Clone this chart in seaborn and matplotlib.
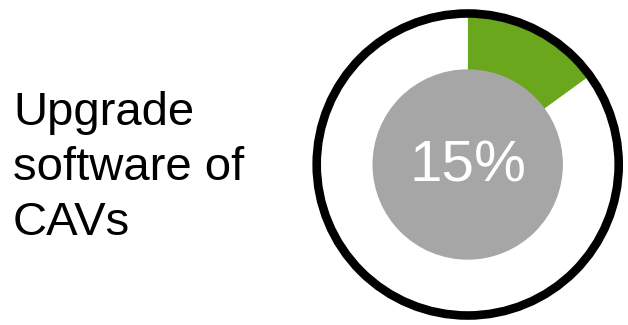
import matplotlib
matplotlib.use("Agg")
import matplotlib.pyplot as plt
from matplotlib.patches import Circle
import seaborn as sns

# dados
share = [15, 85]
share_colors = ["#6aa71d", "white"]
label = "Upgrade\nsoftware of\nCAVs"
center_text = "15%"

sns.set_theme(style="white")
plt.rcParams["font.family"] = ["Liberation Sans", "DejaVu Sans"]

W, H = 628, 325
fig = plt.figure(figsize=(W / 100, H / 100), dpi=100)

# eixo quadrado em unidades de pixel, centrado no anel
cx, cy, half = 467.7, H - 164.5, 160
ax = fig.add_axes([(cx - half) / W, (cy - half) / H, 2 * half / W, 2 * half / H])

ax.pie(share, colors=share_colors, radius=147, startangle=90, counterclock=False,
       wedgeprops=dict(width=147 - 94.5, linewidth=0), frame=True)
ax.set_xlim(-half, half)
ax.set_ylim(-half, half)
ax.set_aspect("equal")
ax.axis("off")

ax.add_patch(Circle((0, 0), 94.5, color="#a6a6a6", zorder=3))
ax.add_patch(Circle((0, 0), 151, fill=False, edgecolor="black", linewidth=6.2, zorder=4))
ax.text(0, -2, center_text, color="white", fontsize=42, ha="center", va="center", zorder=5)

fig.text(13 / W, 157 / H, label, fontsize=34, ha="left", va="center",
         color="black", linespacing=1.32)

fig.savefig("out.png", dpi=100)
